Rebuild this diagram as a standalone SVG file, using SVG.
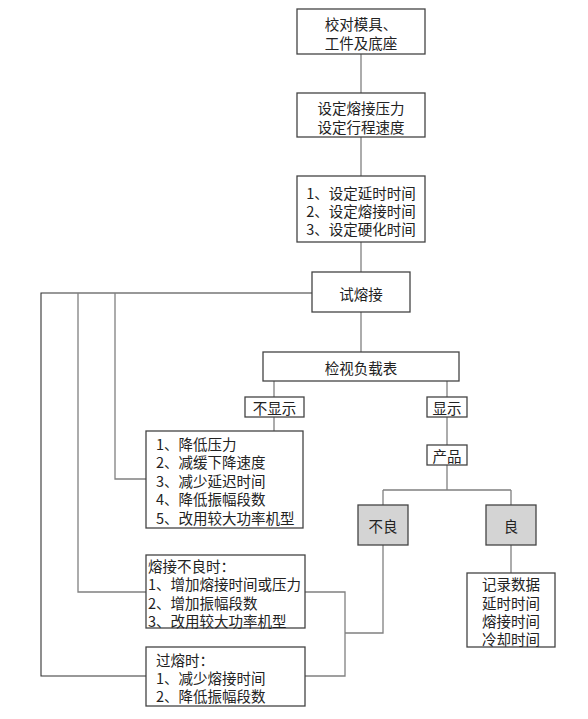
<svg xmlns="http://www.w3.org/2000/svg" width="588" height="719" viewBox="0 0 588 719">
<style>
.box{fill:#fff;stroke:#444;stroke-width:1.3}
.gbox{fill:#d4d4d4;stroke:#444;stroke-width:1.3}
.ln{fill:none;stroke:#808080;stroke-width:1.3}
.dk{fill:none;stroke:#333;stroke-width:1.1}
text{font-family:"Noto Sans CJK SC","Noto Sans",sans-serif;font-size:14.5px;fill:#222;dominant-baseline:central}
.c{text-anchor:middle}
</style>
<rect width="588" height="719" fill="#fff"/>
<g id="connectors">
<path class="ln" d="M361 54V93M361 137V176M361 242V272M361 312V352"/>
<path class="ln" d="M274 381V397M274 417V431"/>
<path class="ln" d="M447 381V397M447 417V445M447 465V490M383 490H511M383 490V505M511 490V505M511 545V573"/>
<path class="dk" d="M312 293H41V676H146"/>
<path class="ln" d="M78 293V592H146"/>
<path class="ln" d="M115 293V479H146"/>
<path class="ln" d="M383 545V633H345M305 592H345V676H305"/>
</g>
<g id="n1"><rect class="box" x="297" y="9" width="128" height="45"/><text class="c" x="361" y="23">校对模具、</text><text class="c" x="361" y="42">工件及底座</text></g>
<g id="n2"><rect class="box" x="297" y="93" width="128" height="44"/><text class="c" x="361" y="107">设定熔接压力</text><text class="c" x="361" y="126">设定行程速度</text></g>
<g id="n3"><rect class="box" x="297" y="176" width="128" height="66"/><text class="c" x="361" y="192">1、设定延时时间</text><text class="c" x="361" y="210">2、设定熔接时间</text><text class="c" x="361" y="228">3、设定硬化时间</text></g>
<g id="n4"><rect class="box" x="312" y="272" width="98" height="40"/><text class="c" x="361" y="293">试熔接</text></g>
<g id="n5"><rect class="box" x="263" y="352" width="196" height="29"/><text class="c" x="361" y="367">检视负载表</text></g>
<g id="n6"><rect class="box" x="245" y="397" width="59" height="20"/><text class="c" x="274.5" y="407">不显示</text></g>
<g id="n7"><rect class="box" x="427" y="397" width="40" height="20"/><text class="c" x="447" y="407">显示</text></g>
<g id="n8"><rect class="box" x="427" y="445" width="40" height="20"/><text class="c" x="447" y="455">产品</text></g>
<g id="n9"><rect class="box" x="146" y="431" width="157" height="97"/>
<text x="156" y="443">1、降低压力</text><text x="156" y="461">2、减缓下降速度</text><text x="156" y="480">3、减少延迟时间</text><text x="156" y="498">4、降低振幅段数</text><text x="156" y="517">5、改用较大功率机型</text></g>
<g id="n10"><rect class="gbox" x="358" y="505" width="50" height="40"/><text class="c" x="383" y="525">不良</text></g>
<g id="n11"><rect class="gbox" x="486" y="505" width="50" height="40"/><text class="c" x="511" y="525">良</text></g>
<g id="n12"><rect class="box" x="467" y="573" width="88" height="74"/><text class="c" x="511" y="583">记录数据</text><text class="c" x="511" y="602">延时时间</text><text class="c" x="511" y="620">熔接时间</text><text class="c" x="511" y="638">冷却时间</text></g>
<g id="n13"><rect class="box" x="146" y="555" width="159" height="73"/>
<text x="148" y="565">熔接不良时：</text><text x="148" y="583">1、增加熔接时间或压力</text><text x="148" y="602">2、增加振幅段数</text><text x="148" y="620">3、改用较大功率机型</text></g>
<g id="n14"><rect class="box" x="146" y="647" width="159" height="59"/>
<text x="156" y="659">过熔时：</text><text x="156" y="677">1、减少熔接时间</text><text x="156" y="695">2、降低振幅段数</text></g>
</svg>
